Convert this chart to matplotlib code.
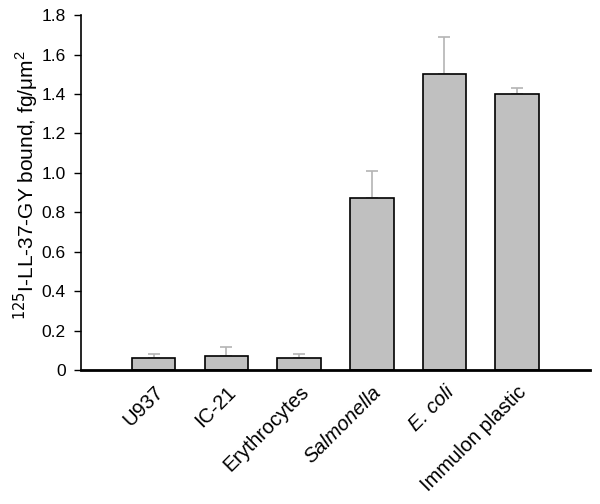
import matplotlib
matplotlib.use("Agg")
import matplotlib.pyplot as plt
import numpy as np

plt.rcParams["font.family"] = ["Liberation Sans", "DejaVu Sans"]

categories = ["U937", "IC-21", "Erythrocytes", "Salmonella", "E. coli", "Immulon plastic"]
italic = [False, False, False, True, True, False]
values = [0.06, 0.07, 0.06, 0.87, 1.50, 1.40]
errors = [0.02, 0.045, 0.02, 0.14, 0.19, 0.03]
yticks = [0, 0.2, 0.4, 0.6, 0.8, 1.0, 1.2, 1.4, 1.6, 1.8]
ytick_labels = ["0", "0.2", "0.4", "0.6", "0.8", "1.0", "1.2", "1.4", "1.6", "1.8"]

fig = plt.figure(figsize=(6, 5.04), dpi=100)
ax = fig.add_axes([0.135, 0.266, 0.848, 0.704])

x = np.arange(len(categories))
ax.bar(x, values, width=0.6, color="#c0c0c0", edgecolor="black", linewidth=1.2, zorder=2)
ax.errorbar(x, values, yerr=[np.zeros(len(errors)), errors], fmt="none",
            ecolor="#b4b4b4", elinewidth=1.2, capsize=4, capthick=1.2, zorder=1)

ax.set_xlim(-1, 6)
ax.set_ylim(0, 1.8)
ax.set_yticks(yticks)
ax.set_yticklabels(ytick_labels, fontsize=12.5)
ax.tick_params(axis="y", direction="out", length=5, width=1, pad=6)
ax.set_xticks(x)
ax.set_xticklabels(categories, rotation=45, ha="right", rotation_mode="anchor", fontsize=14.5)
for lbl, it in zip(ax.get_xticklabels(), italic):
    if it:
        lbl.set_style("italic")
ax.tick_params(axis="x", length=0, pad=9)

ax.spines["top"].set_visible(False)
ax.spines["right"].set_visible(False)
ax.spines["left"].set_linewidth(1.2)
ax.spines["bottom"].set_linewidth(2)

ax.set_ylabel(r"$^{125}$I-LL-37-GY bound, fg/$\mathregular{\mu m^2}$", fontsize=15)
ax.yaxis.set_label_coords(-0.078, 0.522)

fig.savefig("out.png", dpi=100)
